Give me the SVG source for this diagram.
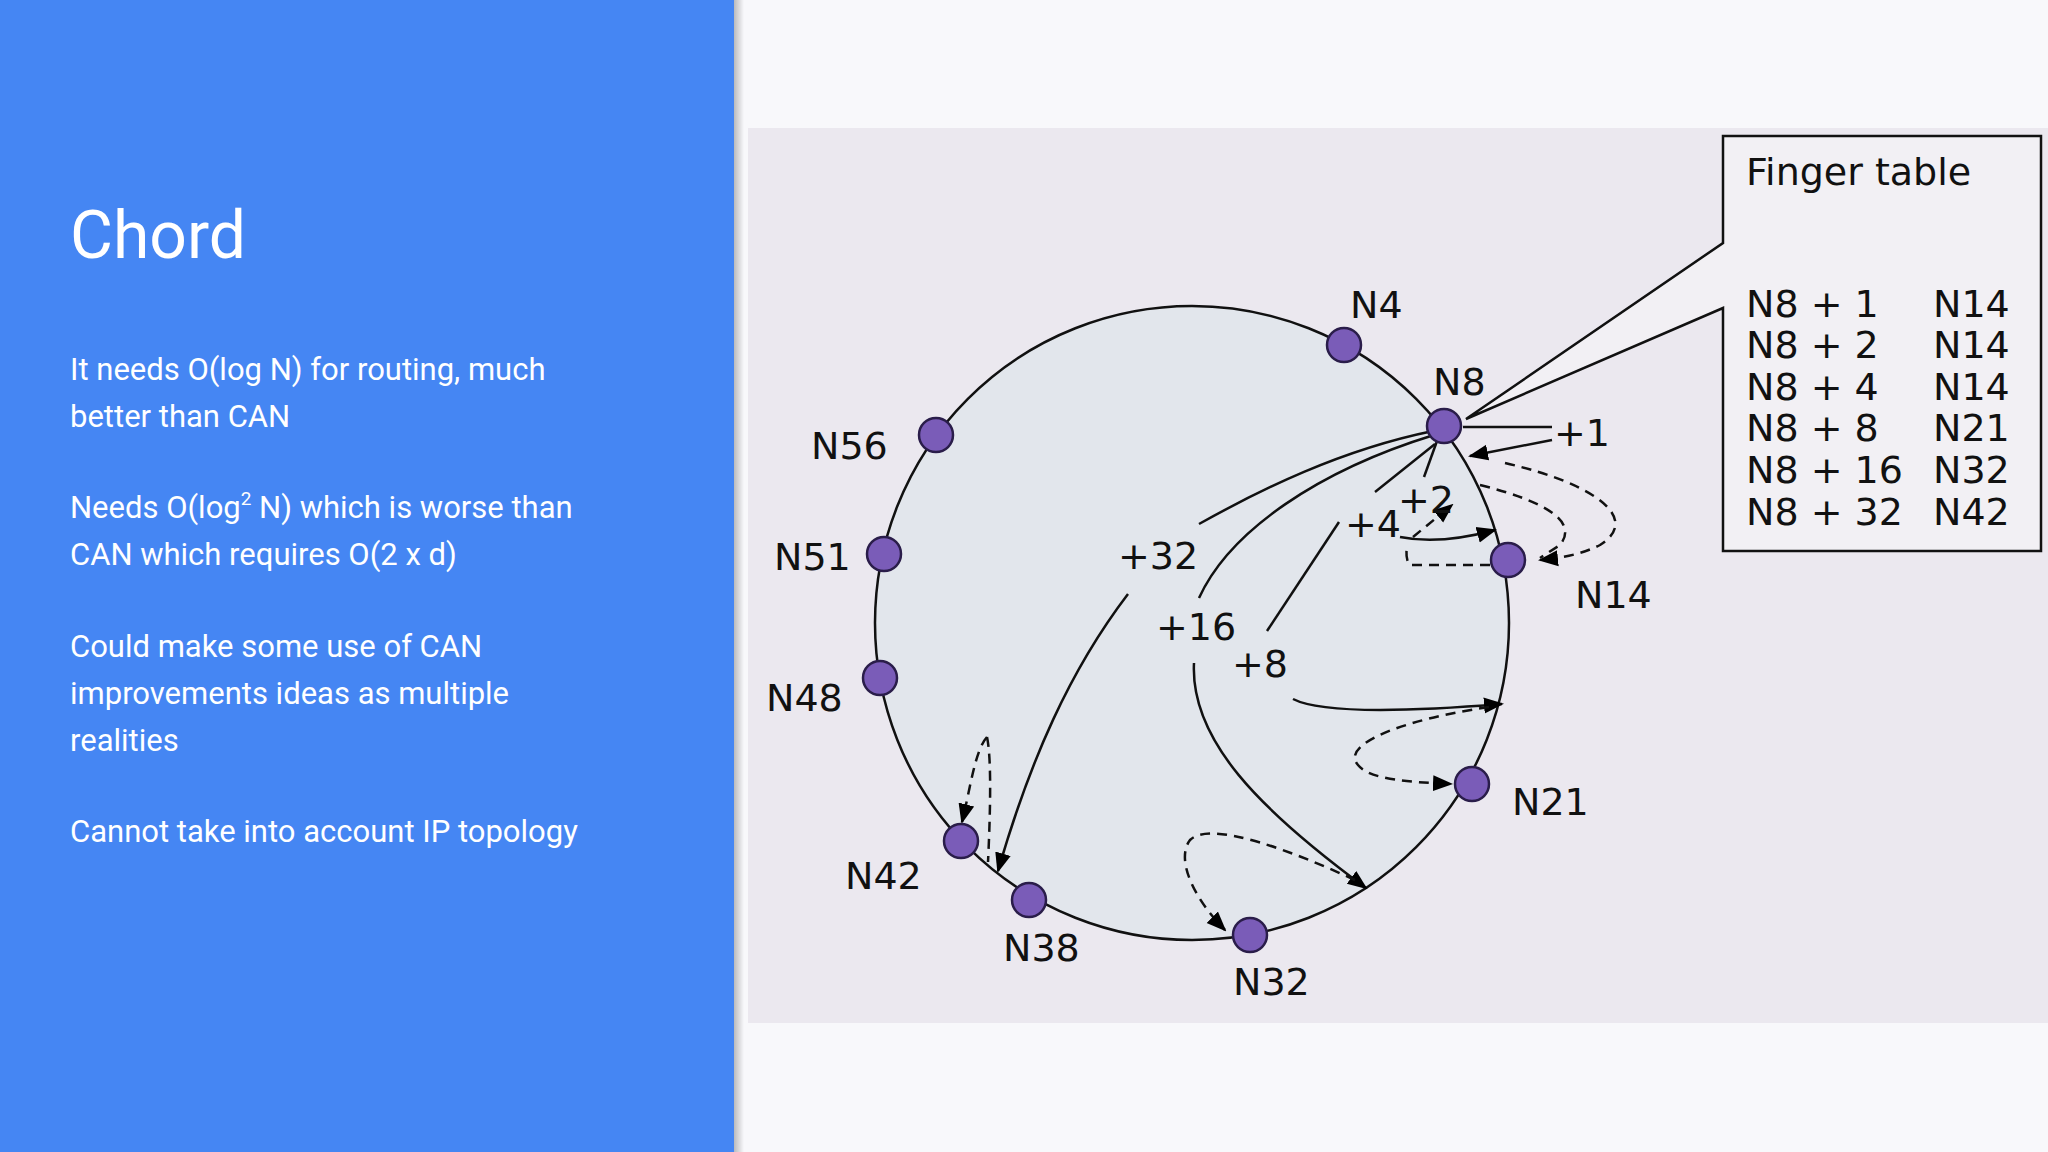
<svg xmlns="http://www.w3.org/2000/svg" width="2048" height="1152" viewBox="0 0 2048 1152">
<defs>
<marker id="ah" viewBox="0 0 10 10" refX="9" refY="5" markerWidth="9" markerHeight="9" orient="auto" markerUnits="userSpaceOnUse"><path d="M0,0 L10,5 L0,10 z" fill="#000"/></marker>
<marker id="ahb" viewBox="0 0 10 10" refX="9" refY="5" markerWidth="20" markerHeight="20" orient="auto" markerUnits="userSpaceOnUse"><path d="M0,1 L10,5 L0,9 z" fill="#000"/></marker>
<linearGradient id="sh" x1="0" x2="1"><stop offset="0" stop-color="#000" stop-opacity="0.25"/><stop offset="1" stop-color="#000" stop-opacity="0"/></linearGradient>
</defs>
<style>
.side{font-family:Roboto,"Liberation Sans",sans-serif;fill:#fff}
.lbl{font-family:"DejaVu Sans","Liberation Sans",sans-serif;font-size:38px;fill:#111}
.node{fill:#7a5cb8;stroke:#2a1d4a;stroke-width:2.5}
.ln{fill:none;stroke:#111;stroke-width:2.5}
.ds{fill:none;stroke:#111;stroke-width:2.5;stroke-dasharray:10 7}
</style>
<rect width="2048" height="1152" fill="#f8f8fb"/>
<rect width="734" height="1152" fill="#4586f3"/>
<rect x="734" width="10" height="1152" fill="url(#sh)"/>
<g id="text-left" class="side">
<text x="70" y="258" font-size="66">Chord</text>
<text x="70" y="380" font-size="31">It needs O(log N) for routing, much</text>
<text x="70" y="427" font-size="31">better than CAN</text>
<text x="70" y="518" font-size="31">Needs O(log<tspan font-size="19" dy="-13">2</tspan><tspan dy="13"> N) which is worse than</tspan></text>
<text x="70" y="565" font-size="31">CAN which requires O(2 x d)</text>
<text x="70" y="657" font-size="31">Could make some use of CAN</text>
<text x="70" y="704" font-size="31">improvements ideas as multiple</text>
<text x="70" y="751" font-size="31">realities</text>
<text x="70" y="842" font-size="31">Cannot take into account IP topology</text>
</g>
<rect x="748" y="128" width="1300" height="895" fill="#ebe8ef"/>
<circle cx="1192" cy="623" r="317" fill="#e2e6ec" stroke="#111" stroke-width="2.5"/>
<g id="finger-table">
<path d="M1723,136 H2041 V551 H1723 V308 L1466,419 L1723,243 Z" fill="#f2f0f4" stroke="#111" stroke-width="2.5"/>
<text class="lbl" x="1746" y="185">Finger table</text>
<g class="lbl" font-size="40">
<text x="1746" y="317">N8 + 1</text><text x="1933" y="317">N14</text>
<text x="1746" y="358">N8 + 2</text><text x="1933" y="358">N14</text>
<text x="1746" y="400">N8 + 4</text><text x="1933" y="400">N14</text>
<text x="1746" y="441">N8 + 8</text><text x="1933" y="441">N21</text>
<text x="1746" y="483">N8 + 16</text><text x="1933" y="483">N32</text>
<text x="1746" y="525">N8 + 32</text><text x="1933" y="525">N42</text>
</g>
</g>
<g id="connectors">
<path class="ln" d="M1463,427 H1552"/>
<path class="ln" d="M1552,440 L1470,456" marker-end="url(#ahb)"/>
<path class="ln" d="M1437,441 L1424,477"/>
<path class="ln" d="M1435,444 L1375,492"/>
<path class="ln" d="M1400,537 Q1440,545 1495,530" marker-end="url(#ahb)"/>
<path class="ds" d="M1413,537 L1452,505" marker-end="url(#ahb)"/>
<path class="ds" d="M1505,463 C1600,485 1640,520 1600,545 C1580,555 1560,558 1540,560" marker-end="url(#ahb)"/>
<path class="ds" d="M1480,485 C1540,500 1580,520 1560,545 L1540,558"/>
<path class="ds" d="M1490,565 H1410 Q1405,560 1407,545"/>
<path class="ln" d="M1339,522 L1267,631"/>
<path class="ln" d="M1293,699 Q1330,718 1502,704" marker-end="url(#ahb)"/>
<path class="ds" d="M1489,707 C1400,720 1340,745 1358,765 C1370,780 1410,782 1451,784" marker-end="url(#ahb)"/>
<path class="ln" d="M1433,431 C1340,450 1260,490 1199,524"/>
<path class="ln" d="M1128,594 C1070,670 1030,760 998,871" marker-end="url(#ahb)"/>
<path class="ln" d="M1434,435 C1320,470 1230,530 1199,598"/>
<path class="ln" d="M1194,663 C1190,740 1260,810 1366,888" marker-end="url(#ahb)"/>
<path class="ds" d="M1355,880 C1290,850 1210,820 1190,840 C1175,860 1195,900 1225,930" marker-end="url(#ahb)"/>
<path class="ds" d="M987,737 C975,750 970,790 962,822" marker-end="url(#ahb)"/>
<path class="ds" d="M987,737 C992,760 990,820 988,862"/>
</g>
<g id="labels" class="lbl">
<text x="1554" y="446">+1</text>
<text x="1398" y="513">+2</text>
<text x="1345" y="537">+4</text>
<text x="1232" y="677">+8</text>
<text x="1156" y="640">+16</text>
<text x="1118" y="569">+32</text>
</g>
<g id="N4"><circle class="node" cx="1344" cy="345" r="17"/><text class="lbl" x="1350" y="318">N4</text></g>
<g id="N8"><circle class="node" cx="1444" cy="426" r="17"/><text class="lbl" x="1433" y="395">N8</text></g>
<g id="N14"><circle class="node" cx="1508" cy="560" r="17"/><text class="lbl" x="1575" y="608">N14</text></g>
<g id="N21"><circle class="node" cx="1472" cy="784" r="17"/><text class="lbl" x="1512" y="815">N21</text></g>
<g id="N32"><circle class="node" cx="1250" cy="935" r="17"/><text class="lbl" x="1233" y="995">N32</text></g>
<g id="N38"><circle class="node" cx="1029" cy="900" r="17"/><text class="lbl" x="1003" y="961">N38</text></g>
<g id="N42"><circle class="node" cx="961" cy="841" r="17"/><text class="lbl" x="845" y="889">N42</text></g>
<g id="N48"><circle class="node" cx="880" cy="678" r="17"/><text class="lbl" x="766" y="711">N48</text></g>
<g id="N51"><circle class="node" cx="884" cy="554" r="17"/><text class="lbl" x="774" y="570">N51</text></g>
<g id="N56"><circle class="node" cx="936" cy="435" r="17"/><text class="lbl" x="811" y="459">N56</text></g>
</svg>
